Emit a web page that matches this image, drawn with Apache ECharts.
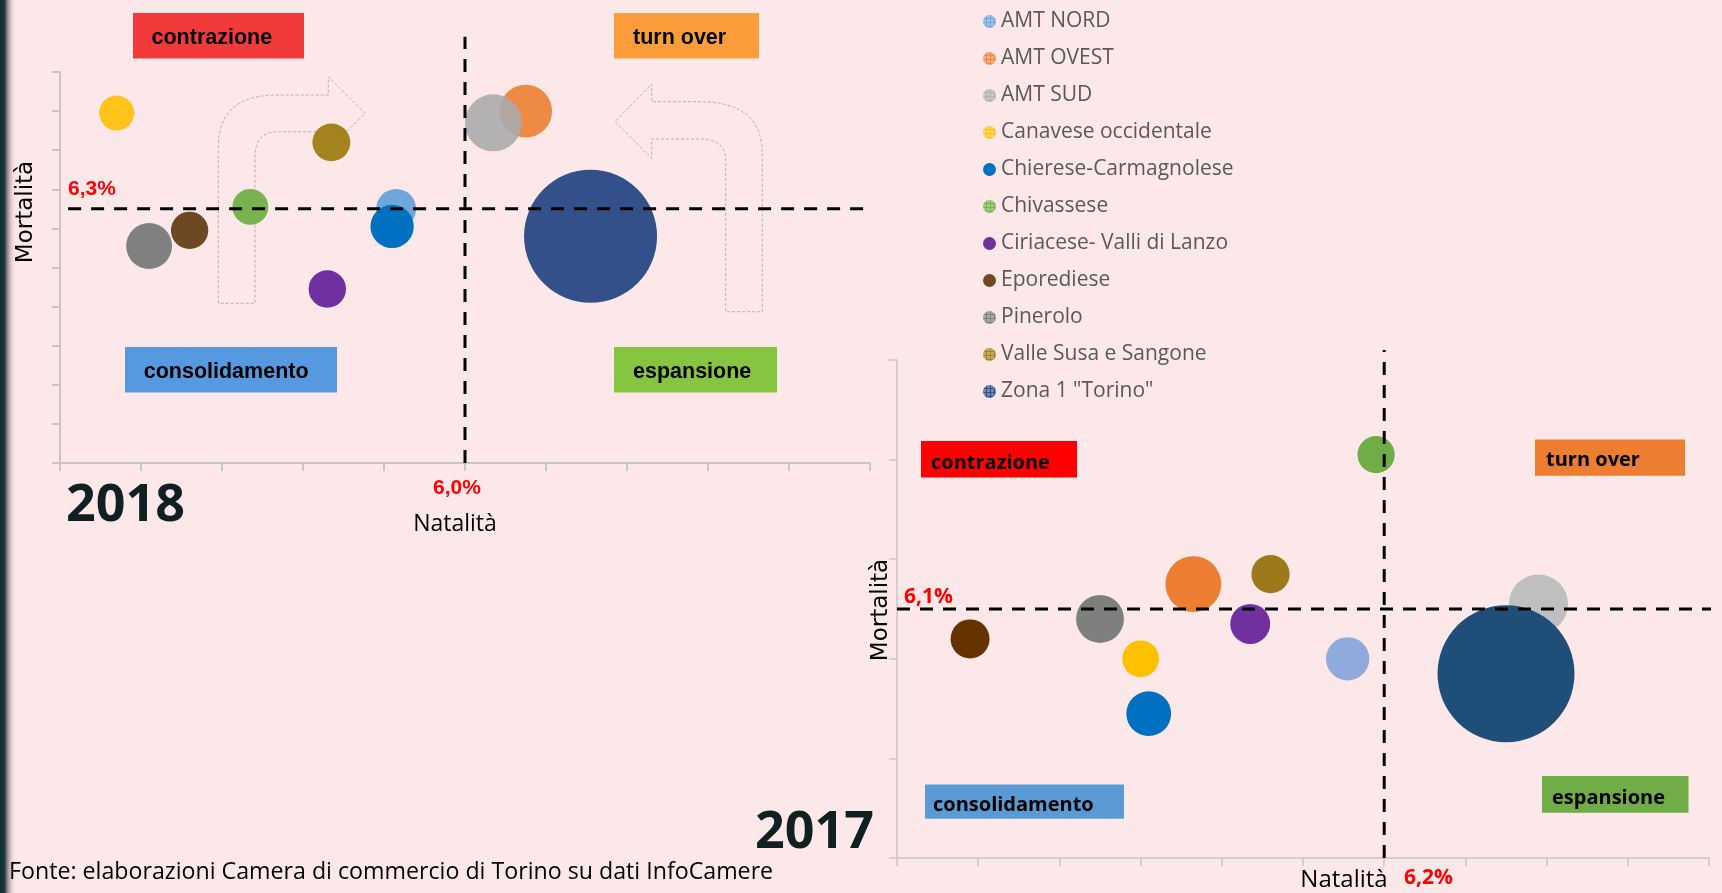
<!DOCTYPE html>
<html>
<head>
<meta charset="utf-8">
<title>Natalità e mortalità delle imprese 2018 - 2017</title>
<script src="https://cdn.jsdelivr.net/npm/echarts@6.0.0/dist/echarts.min.js"></script>
<style>
    html, body { margin: 0; padding: 0; background: #fce8e9; }
    #chart { width: 1722px; height: 893px; }
</style>
</head>
<body>
<div id="chart"></div>
<script>
    // dati
    const regioni = ['AMT NORD', 'AMT OVEST', 'AMT SUD', 'Canavese occidentale', 'Chierese-Carmagnolese',
        'Chivassese', 'Ciriacese- Valli di Lanzo', 'Eporediese', 'Pinerolo', 'Valle Susa e Sangone', 'Zona 1 "Torino"'];

    const natalita2018 = [5.83, 6.15, 6.07, 5.14, 5.82, 5.47, 5.66, 5.32, 5.22, 5.67, 6.31];
    const mortalita2018 = [6.30, 6.80, 6.74, 6.79, 6.21, 6.31, 5.89, 6.19, 6.11, 6.64, 6.16];
    const dimensione2018 = [9.0, 15.7, 18.4, 6.9, 10.6, 7.3, 7.9, 7.9, 11.9, 8.1, 100];

    const natalita2017 = [6.11, 5.73, 6.58, 5.60, 5.62, 6.18, 5.87, 5.18, 5.50, 5.92, 6.50];
    const mortalita2017 = [6.00, 6.15, 6.11, 6.00, 5.89, 6.41, 6.07, 6.04, 6.08, 6.17, 5.97];
    const dimensione2017 = [10.0, 16.6, 18.7, 7.2, 10.7, 7.4, 8.5, 8.1, 12.2, 7.8, 100];

    // [natalità, mortalità] medie
    const soglie2018 = [6.0, 6.3];
    const soglie2017 = [6.2, 6.1];

    // stili
    const colori2018 = ['#6fa6dc', '#ef8a45', '#ababab', '#ffc31a', '#0070c0', '#78b350',
        '#7030a0', '#6e4822', '#808080', '#a4831e', '#34508a'];
    const trama2018 = [true, true, true, true, false, true, false, false, true, true, true];
    const colori2017 = ['#8faadc', '#ed7d31', '#bfbfbf', '#ffc000', '#0070c0', '#70ad47',
        '#7030a0', '#663300', '#7f7f7f', '#9c7a1c', '#1f4e79'];
    const trama2017 = [false, false, false, true, false, true, false, false, true, true, false];

    function decal() {
        return {
            symbol: 'rect',
            symbolSize: 1,
            dashArrayX: [[3, 1]],
            dashArrayY: [3, 1],
            color: 'rgba(255,255,255,0.32)'
        };
    }

    const pct = v => v.toFixed(1).replace('.', ',') + '%';

    function bolle(nat, mor, dim, colori, trama, idx, diametro) {
        const maxDim = Math.max(...dim);
        return regioni.map((nome, i) => {
            const stile = {
                color: colori[i],
                opacity: (idx === 0 && i === 2) ? 0.9 : 1
            };
            if (trama[i]) stile.decal = decal();
            return {
                name: nome,
                type: 'scatter',
                xAxisIndex: idx,
                yAxisIndex: idx,
                data: [[nat[i], mor[i], dim[i]]],
                symbolSize: v => diametro * Math.sqrt(v[2] / maxDim),
                itemStyle: stile,
                z: 2
            };
        });
    }

    function soglia(punti, idx) {
        return {
            type: 'line',
            xAxisIndex: idx,
            yAxisIndex: idx,
            data: punti,
            symbol: 'none',
            clip: false,
            silent: true,
            z: 5,
            lineStyle: { color: '#000', width: 3, type: [13, 10] }
        };
    }

    function asse(min, max, interval, larg, i) {
        return {
            type: 'value',
            gridIndex: i,
            min: min,
            max: max,
            interval: interval,
            axisLine: { show: true, onZero: false, lineStyle: { color: '#c6c6c6', width: larg } },
            axisTick: { show: true, length: 8, lineStyle: { color: '#c6c6c6', width: larg } },
            axisLabel: { show: false },
            splitLine: { show: false }
        };
    }

    function testo(x, y, t, font, colore, align, rot) {
        return {
            type: 'text',
            x: x,
            y: y,
            rotation: rot || 0,
            z: 10,
            style: {
                text: t,
                font: font,
                fill: colore,
                align: align || 'left',
                verticalAlign: 'middle'
            }
        };
    }

    function riquadro(x, y, w, h, fill, t, font, tx, dy) {
        return [
            { type: 'rect', shape: { x: x, y: y, width: w, height: h }, style: { fill: fill }, z: 9 },
            testo(tx, y + h / 2 + dy, t, font, '#000')
        ];
    }

    const fontA = 'bold 21.5px "Liberation Sans", Arial, sans-serif';
    const fontB = 'bold 20px "Open Sans", sans-serif';

    // frecce tratteggiate (contorno come poligono, curve approssimate)
    function curva(p0, c, p1) {
        const pts = [];
        for (let k = 0; k <= 12; k++) {
            const t = k / 12;
            pts.push([
                (1 - t) * (1 - t) * p0[0] + 2 * (1 - t) * t * c[0] + t * t * p1[0],
                (1 - t) * (1 - t) * p0[1] + 2 * (1 - t) * t * c[1] + t * t * p1[1]
            ]);
        }
        return pts;
    }
    const frecciaSx = [[218.3, 303.3],
        ...curva([218.3, 146.7], [218.3, 95], [276.7, 95]),
        [328.3, 95], [328.3, 76.7], [365, 113.3], [328.3, 150], [328.3, 131.7], [278.3, 131.7],
        ...curva([278.3, 131.7], [255, 131.7], [255, 156.7]),
        [255, 303.3]];
    const frecciaDx = [[762.3, 311.7],
        ...curva([762.3, 153.3], [762.3, 101.7], [700, 101.7]),
        [651.7, 101.7], [651.7, 84], [615, 121.7], [651.7, 158.3], [651.7, 139], [700, 139],
        ...curva([700, 139], [725.7, 139], [725.7, 160]),
        [725.7, 311.7]];

    function freccia(punti) {
        return {
            type: 'polygon', z: 0, shape: { points: punti },
            style: { fill: 'none', stroke: '#b8b0b0', lineWidth: 1, lineDash: [3, 2] }
        };
    }

    const grafica = [
        {
            type: 'rect', shape: { x: 0, y: 0, width: 16, height: 893 }, z: 10,
            style: {
                fill: new echarts.graphic.LinearGradient(0, 0, 1, 0, [
                    { offset: 0, color: '#0f2b35' },
                    { offset: 0.28, color: '#1d3a44' },
                    { offset: 0.45, color: '#8d7f83' },
                    { offset: 1, color: 'rgba(252,232,233,0)' }
                ])
            }
        },
        freccia(frecciaSx),
        freccia(frecciaDx),

        // 2018
        ...riquadro(133, 13, 171, 45.5, '#f23a3b', 'contrazione', fontA, 151.5, 2),
        ...riquadro(614, 13, 145, 45.5, '#fd9c3a', 'turn over', fontA, 633, 2),
        ...riquadro(125, 347, 212, 45.6, '#5599e0', 'consolidamento', fontA, 143.7, 2),
        ...riquadro(614, 347, 163, 45.6, '#86c53f', 'espansione', fontA, 633, 2),
        testo(68, 189, pct(soglie2018[1]), 'bold 21px "Liberation Sans", Arial, sans-serif', '#ff0000'),
        testo(457, 488, pct(soglie2018[0]), 'bold 21px "Liberation Sans", Arial, sans-serif', '#ff0000', 'center'),
        testo(26, 212, 'Mortalità', '23px "DejaVu Sans", sans-serif', '#000', 'center', Math.PI / 2),
        testo(455, 524, 'Natalità', '23px "Open Sans", sans-serif', '#000', 'center'),
        testo(66, 506, '2018', 'bold 52px "Open Sans", sans-serif', '#0f1f22'),

        // 2017
        ...riquadro(921, 441, 156, 36.6, '#ff0000', 'contrazione', fontB, 931, 3.5),
        ...riquadro(1535, 439.5, 150, 36.3, '#ed7d31', 'turn over', fontB, 1546, 3),
        ...riquadro(925, 784.4, 199, 34.3, '#5b9bd5', 'consolidamento', fontB, 933, 4),
        ...riquadro(1542, 776, 146.5, 36.7, '#70ad47', 'espansione', fontB, 1552, 3.5),
        testo(904, 597.5, pct(soglie2017[1]), 'bold 21px "Open Sans", sans-serif', '#ff0000'),
        testo(1404, 878, pct(soglie2017[0]), 'bold 21px "Open Sans", sans-serif', '#ff0000'),
        testo(881, 610, 'Mortalità', '23px "DejaVu Sans", sans-serif', '#000', 'center', Math.PI / 2),
        testo(1344, 880, 'Natalità', '24px "Open Sans", sans-serif', '#000', 'center'),
        testo(755, 833, '2017', 'bold 52px "Open Sans", sans-serif', '#0f1f22'),

        testo(9, 872.5, 'Fonte: elaborazioni Camera di commercio di Torino su dati InfoCamere',
            '23.2px "Open Sans", sans-serif', '#000')
    ];

    const option = {
        backgroundColor: '#fce8e9',
        animation: false,
        legend: {
            data: regioni,
            orient: 'vertical',
            left: 978,
            top: 6,
            itemGap: 16,
            itemWidth: 13,
            itemHeight: 13,
            icon: 'circle',
            textStyle: { fontFamily: 'Open Sans', fontSize: 21, color: '#595959', lineHeight: 21 }
        },
        grid: [
            { left: 60, top: 72, width: 810, height: 391 },
            { left: 897, top: 360, width: 812, height: 498 }
        ],
        xAxis: [asse(5.0, 7.0, 0.2, 2, 0), asse(5.0, 7.0, 0.2, 1.5, 1)],
        yAxis: [asse(5.0, 7.0, 0.2, 2, 0), asse(5.6, 6.6, 0.2, 1.5, 1)],
        graphic: grafica,
        series: [
            ...bolle(natalita2018, mortalita2018, dimensione2018, colori2018, trama2018, 0, 133),
            ...bolle(natalita2017, mortalita2017, dimensione2017, colori2017, trama2017, 1, 137),
            soglia([[soglie2018[0], 5.0], [soglie2018[0], 7.18]], 0),
            soglia([[5.02, soglie2018[1]], [6.99, soglie2018[1]]], 0),
            soglia([[soglie2017[0], 5.6], [soglie2017[0], 6.62]], 1),
            soglia([[5.0, soglie2017[1]], [7.03, soglie2017[1]]], 1)
        ]
    };

    echarts.init(document.getElementById('chart')).setOption(option);
</script>
</body>
</html>
